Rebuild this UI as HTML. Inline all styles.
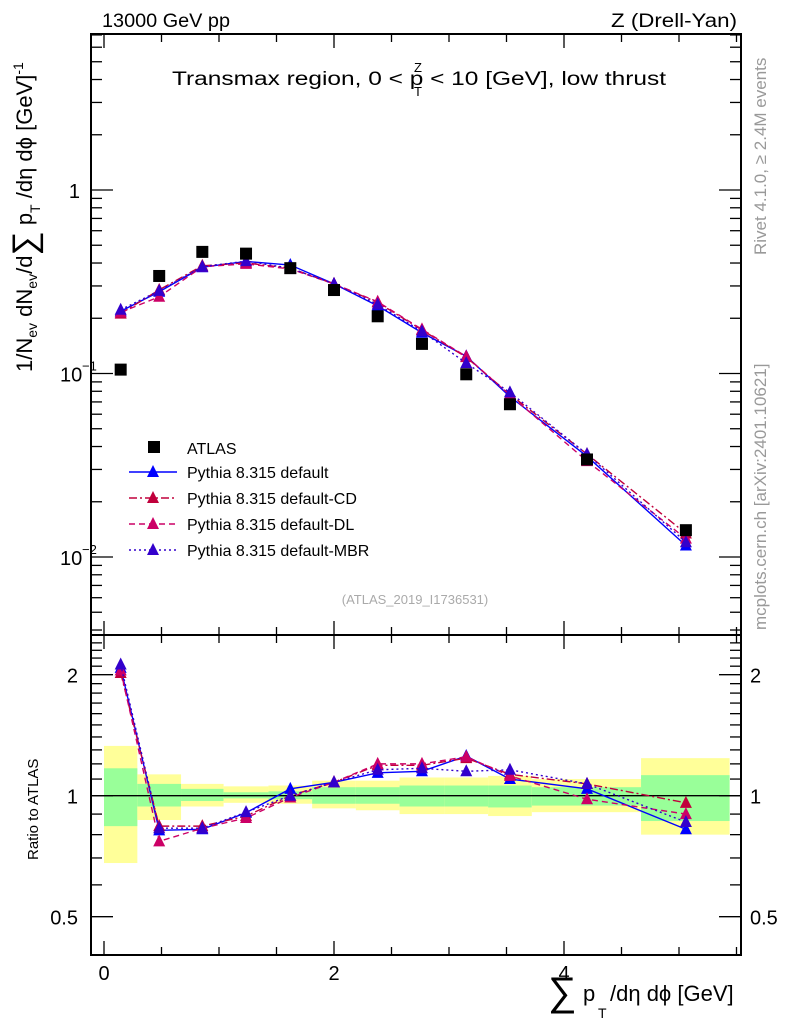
<!DOCTYPE html>
<html><head><meta charset="utf-8"><style>
body{margin:0;background:#fff}
svg{display:block;font-family:"Liberation Sans",sans-serif}
</style></head><body>
<svg id="c" width="786" height="1024" viewBox="0 0 786 1024">
<text x="102" y="27" font-size="19" textLength="128" lengthAdjust="spacingAndGlyphs">13000 GeV pp</text>
<text x="737" y="27" font-size="19" text-anchor="end" textLength="126" lengthAdjust="spacingAndGlyphs">Z (Drell-Yan)</text>
<text x="172" y="85" font-size="19" textLength="494" lengthAdjust="spacingAndGlyphs">Transmax region, 0 &lt; p  &lt; 10 [GeV], low thrust</text>
<text x="414" y="72" font-size="13">Z</text>
<text x="414" y="96" font-size="13">T</text>
<text transform="translate(766,255) rotate(-90)" font-size="17" fill="#999">Rivet 4.1.0, ≥ 2.4M events</text>
<text transform="translate(766,630) rotate(-90)" font-size="17" fill="#999">mcplots.cern.ch [arXiv:2401.10621]</text>
<text x="415" y="604" font-size="13" fill="#aaa" text-anchor="middle">(ATLAS_2019_I1736531)</text>
<text transform="translate(32,372) rotate(-90)" font-size="22">1/N<tspan font-size="14" dy="5">ev</tspan><tspan dy="-5"> dN</tspan><tspan font-size="14" dy="5">ev</tspan><tspan dy="-5">/d</tspan><tspan font-size="34" dy="4">∑</tspan><tspan dy="-4"> p</tspan><tspan font-size="14" dy="8">T</tspan><tspan dy="-8"> /dη dϕ  [GeV]</tspan><tspan font-size="14" dy="-9">-1</tspan></text>
<text transform="translate(38,860) rotate(-90)" font-size="15">Ratio to ATLAS</text>
<text x="548" y="1005" font-size="40">∑</text>
<text x="583" y="1001" font-size="22">p</text>
<text x="598" y="1018" font-size="14">T</text>
<text x="610" y="1001" font-size="22">/dη dϕ [GeV]</text>
<g id="g"></g>
</svg>
<script>
const xEdges=[0,0.29,0.67,1.04,1.43,1.81,2.19,2.57,2.96,3.34,3.72,4.67,5.44];
const xCenters=[0.145,0.48,0.855,1.235,1.62,2.0,2.38,2.765,3.15,3.53,4.2,5.06];
const atlas=[0.105,0.34,0.46,0.45,0.375,0.285,0.205,0.145,0.099,0.068,0.034,0.014];
const yellowUp=[1.33,1.13,1.07,1.055,1.06,1.09,1.09,1.11,1.11,1.12,1.10,1.24];
const yellowDn=[0.68,0.87,0.94,0.96,0.955,0.93,0.92,0.90,0.90,0.89,0.91,0.80];
const greenUp=[1.17,1.07,1.04,1.02,1.025,1.05,1.05,1.06,1.06,1.06,1.05,1.125];
const greenDn=[0.84,0.94,0.97,0.985,0.98,0.955,0.955,0.94,0.94,0.935,0.945,0.865];
const rDefault=[2.08,0.82,0.825,0.907,1.04,1.08,1.14,1.15,1.255,1.10,1.04,0.825];
const rCD=[2.02,0.84,0.84,0.89,1.0,1.08,1.19,1.19,1.24,1.13,1.07,0.96];
const rDL=[2.05,0.77,0.83,0.88,0.99,1.08,1.2,1.2,1.25,1.12,0.98,0.9];
const rMBR=[2.12,0.83,0.83,0.91,1.0,1.08,1.16,1.17,1.15,1.16,1.07,0.86];
const seriesNames=["Pythia 8.315 default","Pythia 8.315 default-CD","Pythia 8.315 default-DL","Pythia 8.315 default-MBR"];
const NS="http://www.w3.org/2000/svg",G=document.getElementById('g');
function el(t,a,p){const e=document.createElementNS(NS,t);for(const k in a)e.setAttribute(k,a[k]);(p||G).appendChild(e);return e;}
const L=91,R=741,T=34,M=635,B=955;
const X=v=>104+v*115;
const Y=v=>190-183.5*Math.log10(v);
const YR=v=>795.7-121*Math.log2(v);
for(let i=0;i<12;i++){
 let r=el('rect',{x:X(xEdges[i]),y:YR(yellowUp[i]),width:X(xEdges[i+1])-X(xEdges[i]),height:YR(yellowDn[i])-YR(yellowUp[i]),fill:'#ffff99'});
 
 let g=el('rect',{x:X(xEdges[i]),y:YR(greenUp[i]),width:X(xEdges[i+1])-X(xEdges[i]),height:YR(greenDn[i])-YR(greenUp[i]),fill:'#99ff99'});
 
}
let one=el('line',{x1:L,x2:R,y1:YR(1),y2:YR(1),stroke:'#000','stroke-width':1.3});

for(const [y1,y2,n] of [[T,M,'main-frame'],[M,B,'ratio-frame']]){
 const f=el('rect',{x:L,y:y1,width:R-L,height:y2-y1,fill:'none',stroke:'#000','stroke-width':2});
 
}
for(let v=0;v<=5.5;v+=0.5){const maj=v%2===0;const len=maj?14:8;
 for(const [yb,yt] of [[M,T],[B,M]]){
  el('line',{x1:X(v),x2:X(v),y1:yb,y2:yb-len,stroke:'#000','stroke-width':1.3});
  el('line',{x1:X(v),x2:X(v),y1:yt,y2:yt+len,stroke:'#000','stroke-width':1.3});
 }
 if(maj){const t=el('text',{x:X(v),y:980,'font-size':20,'text-anchor':'middle'});t.textContent=v;
  }
}
for(let d=-3;d<=0;d++)for(let m=1;m<=9;m++){const v=m*Math.pow(10,d);const y=Y(v);if(y<T||y>M)continue;const len=m===1?22:11;
 el('line',{x1:L,x2:L+len,y1:y,y2:y,stroke:'#000','stroke-width':1.3});
 el('line',{x1:R,x2:R-len,y1:y,y2:y,stroke:'#000','stroke-width':1.3});}
for(const [v,lab] of [[1,'1'],[0.1,'10'],[0.01,'10']]){
 const t=el('text',{x:v===1?80:60,y:Y(v)+8,'font-size':20,'text-anchor':v===1?'end':'start'});t.textContent=lab;
 
 if(v<1){const s=el('text',{x:82,y:Y(v)-3,'font-size':13});s.textContent=v===0.1?'−1':'−2';
 }
}
for(let v=0.4;v<=2.5;v+=0.1){const r=Math.round(v*10)/10;const y=YR(r);if(y<M||y>B)continue;const maj=(r===0.5||r===1||r===2);const len=maj?22:11;
 el('line',{x1:L,x2:L+len,y1:y,y2:y,stroke:'#000','stroke-width':1.3});
 el('line',{x1:R,x2:R-len,y1:y,y2:y,stroke:'#000','stroke-width':1.3});}
for(const v of [0.5,1,2]){
 const a=el('text',{x:78,y:YR(v)+8,'font-size':20,'text-anchor':'end'});a.textContent=v;
 
 const b=el('text',{x:750,y:YR(v)+8,'font-size':20});b.textContent=v;
 }
const styles=[{c:'#0000ff',d:'',a:rDefault},{c:'#c0003c',d:'8,3,2,3',a:rCD},{c:'#cc0066',d:'6,4',a:rDL},{c:'#3300cc',d:'2,3',a:rMBR}];
function tri(x,y,c,n){const t=el('polygon',{points:`${x},${y-7} ${x-6},${y+5} ${x+6},${y+5}`,fill:c});}
styles.forEach((s,k)=>{
 const up=xCenters.map((x,i)=>X(x)+','+Y(atlas[i]*s.a[i])).join(' ');
 const l1=el('polyline',{points:up,fill:'none',stroke:s.c,'stroke-width':1.4,'stroke-dasharray':s.d});
 
 const dn=xCenters.map((x,i)=>X(x)+','+YR(s.a[i])).join(' ');
 const l2=el('polyline',{points:dn,fill:'none',stroke:s.c,'stroke-width':1.4,'stroke-dasharray':s.d});
 
 xCenters.forEach((x,i)=>{tri(X(x),Y(atlas[i]*s.a[i]),s.c,'mc-point');tri(X(x),YR(s.a[i]),s.c,'ratio-point');});
});
atlas.forEach((v,i)=>{const r=el('rect',{x:X(xCenters[i])-6,y:Y(v)-6,width:12,height:12,fill:'#000'});
 });
const lg=el('g',{});
el('rect',{x:148,y:441,width:12,height:12,fill:'#000'},lg);
let t0=el('text',{x:187,y:454,'font-size':16},lg);t0.textContent='ATLAS';
styles.forEach((s,k)=>{const y=472+k*26;
 el('line',{x1:129,x2:177,y1:y,y2:y,stroke:s.c,'stroke-width':1.4,'stroke-dasharray':s.d},lg);
 el('polygon',{points:`153,${y-7} 147,${y+5} 159,${y+5}`,fill:s.c},lg);
 const t=el('text',{x:187,y:y+6,'font-size':16},lg);t.textContent=seriesNames[k];
 });
</script>
</body></html>
